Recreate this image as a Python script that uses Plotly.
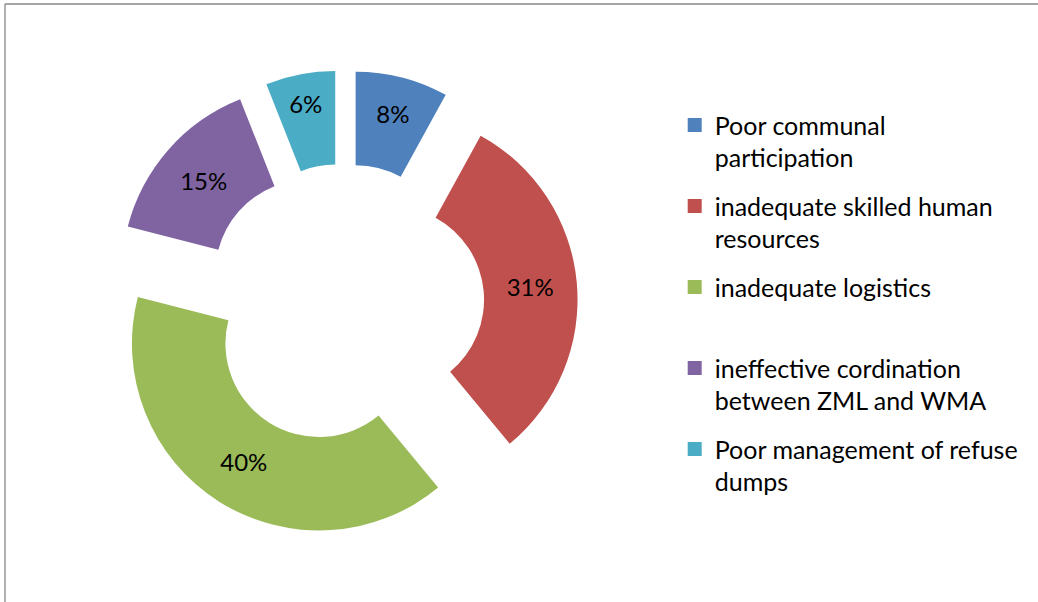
import plotly.graph_objects as go

# Dados do gráfico
labels = [
    'Poor communal<br>participation',
    'inadequate skilled human<br>resources',
    'inadequate logistics<br> ',
    'ineffective cordination<br>between ZML and WMA',
    'Poor management of refuse<br>dumps',
]
values = [8, 31, 40, 15, 6]
colors = ['#4F81BD', '#C0504D', '#9BBB59', '#8064A2', '#4BACC6']

FONT = 'Lato'

fig = go.Figure()

# Rosca com todas as fatias destacadas
fig.add_trace(go.Pie(
    labels=labels,
    values=values,
    marker=dict(colors=colors),
    hole=0.5,
    pull=[0.25] * len(values),
    sort=False,
    direction='clockwise',
    rotation=0,
    textinfo='percent',
    textposition='inside',
    insidetextorientation='horizontal',
    textfont=dict(family=FONT, size=24, color='black'),
    showlegend=False,
    domain=dict(x=[0.1062, 0.5566], y=[0.1067, 0.8833]),
))

# Legenda com quadrados (um item por categoria)
for label, color in zip(labels, colors):
    fig.add_trace(go.Scatter(
        x=[None], y=[None], mode='markers', name=label, legendgroup=label,
        marker=dict(symbol='square', size=14, color=color),
    ))

fig.update_layout(
    width=1038,
    height=602,
    margin=dict(l=0, r=0, t=0, b=0),
    paper_bgcolor='white',
    plot_bgcolor='white',
    xaxis=dict(visible=False),
    yaxis=dict(visible=False),
    legend=dict(
        x=0.650, y=0.83, xanchor='left', yanchor='top',
        font=dict(family=FONT, size=25, color='black'),
        valign='top',
        tracegroupgap=13,
        bgcolor='rgba(0,0,0,0)',
    ),
    shapes=[
        dict(type='line', xref='paper', yref='paper', x0=5 / 1038, x1=1, y0=1 - 4 / 602, y1=1 - 4 / 602,
             line=dict(color='#878787', width=1.3)),
        dict(type='line', xref='paper', yref='paper', x0=5 / 1038, x1=5 / 1038, y0=0, y1=1 - 4 / 602,
             line=dict(color='#878787', width=1.3)),
    ],
)

# sem margem da página, para a figura começar no canto
fig.write_html("out.html", config={'displayModeBar': False},
               post_script="document.body.style.margin='0';")
